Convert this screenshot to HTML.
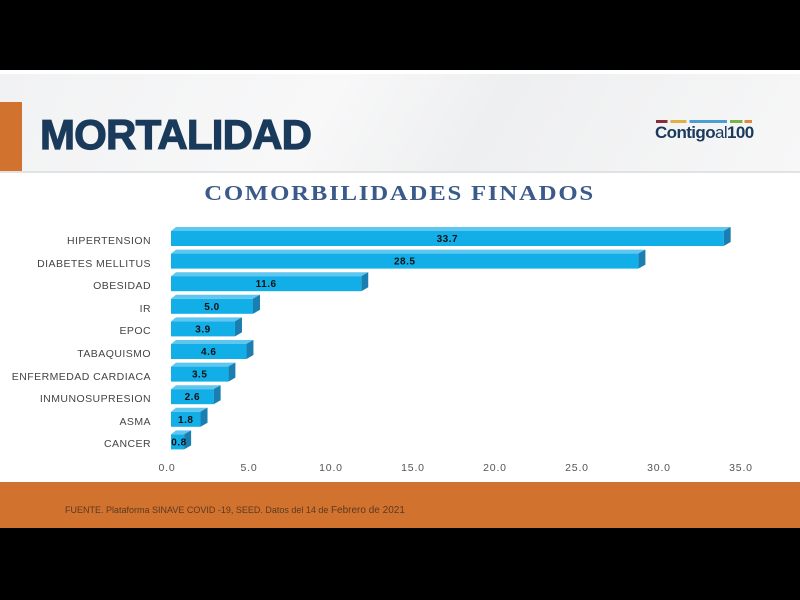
<!DOCTYPE html>
<html><head><style>
body{margin:0;width:800px;height:600px;background:#000;position:relative;overflow:hidden;font-family:"Liberation Sans",sans-serif}
.abs{position:absolute}
.lbl{position:absolute;right:649px;font-size:10.5px;color:#444;white-space:nowrap;letter-spacing:0.45px}
.tick{position:absolute;top:462px;font-size:10.5px;color:#555;width:40px;text-align:center;margin-left:-20px;letter-spacing:0.8px}
</style></head><body>
<div class="abs" style="left:0;top:70px;width:800px;height:413px;background:#fff"></div>
<div class="abs" style="left:0;top:74px;width:800px;height:98px;background:linear-gradient(120deg,#f1f2f3,#f8f8f9 40%,#eeeff0 60%,#f7f7f8)"></div>
<div class="abs" style="left:0;top:171px;width:800px;height:2px;background:#e2e2e2"></div>
<div class="abs" style="left:0;top:102px;width:22px;height:69px;background:#d2722f"></div>
<div class="abs" style="left:40px;top:111px;font-size:42px;font-weight:bold;color:#1a3a5c;-webkit-text-stroke:1.2px #1a3a5c;letter-spacing:-0.8px">MORTALIDAD</div>
<div class="abs" style="left:656px;top:120px;width:96px;height:3px;background:linear-gradient(90deg,#8b2b3a 0 12%,transparent 12% 15%,#e0b040 15% 32%,transparent 32% 35%,#4a9fd0 35% 74%,transparent 74% 77%,#7cb342 77% 90%,transparent 90% 92%,#e08a3a 92%)"></div>
<div class="abs" style="left:655px;top:123px;font-size:17px;font-weight:bold;color:#1a3a5c;letter-spacing:-0.6px">Contigo<span style="font-weight:normal">al</span>100</div>
<div class="abs" style="left:0;top:181px;width:800px;text-align:center;"><span style="display:inline-block;font-family:'Liberation Serif',serif;font-weight:bold;font-size:21px;color:#3b5a8a;letter-spacing:1.5px;transform:scaleX(1.18)">COMORBILIDADES FINADOS</span></div>
<div id="bars"></div>
<div class="lbl" style="top:235px">HIPERTENSION</div>
<div class="lbl" style="top:258px">DIABETES MELLITUS</div>
<div class="lbl" style="top:280px">OBESIDAD</div>
<div class="lbl" style="top:303px">IR</div>
<div class="lbl" style="top:325px">EPOC</div>
<div class="lbl" style="top:348px">TABAQUISMO</div>
<div class="lbl" style="top:371px">ENFERMEDAD CARDIACA</div>
<div class="lbl" style="top:393px">INMUNOSUPRESION</div>
<div class="lbl" style="top:416px">ASMA</div>
<div class="lbl" style="top:438px">CANCER</div>
<div class="tick" style="left:167px">0.0</div>
<div class="tick" style="left:249px">5.0</div>
<div class="tick" style="left:331px">10.0</div>
<div class="tick" style="left:413px">15.0</div>
<div class="tick" style="left:495px">20.0</div>
<div class="tick" style="left:577px">25.0</div>
<div class="tick" style="left:659px">30.0</div>
<div class="tick" style="left:741px">35.0</div>
<div class="abs" style="left:0;top:482px;width:800px;height:46px;background:#d2722f"></div>
<div class="abs" style="left:65px;top:505px;font-size:9px;color:#5a3a20">FUENTE. Plataforma SINAVE COVID -19, SEED. Datos del 14 de <span style="font-size:10px">Febrero de 2021</span></div>
<script>
var d=[33.7,28.5,11.6,5.0,3.9,4.6,3.5,2.6,1.8,0.8];
var s='<svg class="abs" style="left:0;top:0" width="800" height="600">';
for(var i=0;i<d.length;i++){
 var cy=238+i*22.6, x0=171, w=d[i]*16.4, y=cy-7, h=15;
 s+='<polygon points="'+x0+','+y+' '+(x0+5)+','+(y-4)+' '+(x0+w+7)+','+(y-4)+' '+(x0+w+2)+','+y+'" fill="#5fc6f0"/>';
 s+='<polygon points="'+(x0+w)+','+y+' '+(x0+w+7)+','+(y-4)+' '+(x0+w+7)+','+(y+h-4)+' '+(x0+w)+','+(y+h)+'" fill="#1a7fb0"/>';
 s+='<rect x="'+x0+'" y="'+y+'" width="'+w+'" height="'+h+'" fill="#12aee8"/>';
 var tx=Math.max(x0+w/2,x0+8);
 s+='<text x="'+tx+'" y="'+(cy+4)+'" font-family="Liberation Sans" font-weight="bold" font-size="10" fill="#111" text-anchor="middle" letter-spacing="0.5">'+d[i].toFixed(1)+'</text>';
}
s+='</svg>';
document.getElementById('bars').innerHTML=s;
</script>
</body></html>
